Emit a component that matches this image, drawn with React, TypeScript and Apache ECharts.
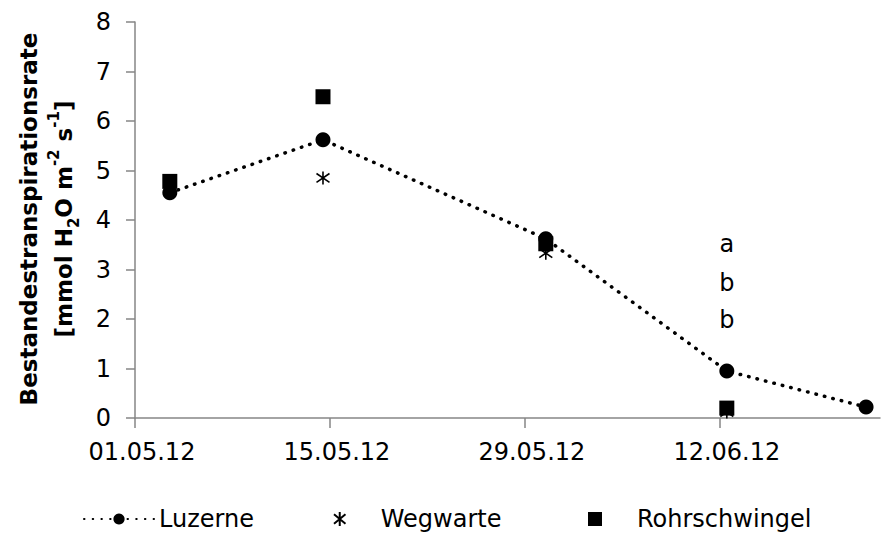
import React, { useEffect, useRef } from "react";
import * as echarts from "echarts";

// ---- data ----
const measureDates = ["03.05.12", "14.05.12", "30.05.12", "12.06.12", "22.06.12"];
const tickDates = ["01.05.12", "15.05.12", "29.05.12", "12.06.12"];
const luzerne = [4.55, 5.62, 3.62, 0.95, 0.22];
const wegwarte: (number | null)[] = [4.65, 4.85, 3.33, 0.12, null];
const rohrschwingel: (number | null)[] = [4.78, 6.49, 3.52, 0.2, null];
const letterDate = "12.06.12";
const letters = ["a", "b", "b"];
const letterLevels = [3.52, 2.73, 1.98];
const yTicks = [0, 1, 2, 3, 4, 5, 6, 7, 8];

const FONT = "DejaVu Sans";
const AXIS_GRAY = "#868686";
const ASTERISK = "path://M5,0L5,10M0.9,1.6L9.1,8.4M0.9,8.4L9.1,1.6";
const SQUARE = "path://M0,0L10,0L10,10L0,10Z";

function dayIndex(s: string): number {
  const [d, m, y] = s.split(".").map(Number);
  return (Date.UTC(2000 + y, m - 1, d) - Date.UTC(2012, 4, 1)) / 86400000;
}
// Excel date axis: each day is a slot, points sit in slot centre
const slot = (s: string) => dayIndex(s) + 0.5;

function pairs(vals: (number | null)[]) {
  return vals
    .map((v, i) => (v === null ? null : [slot(measureDates[i]), v]))
    .filter((p) => p !== null);
}

export default function App() {
  const ref = useRef<HTMLDivElement>(null);
  useEffect(() => {
    if (!ref.current) return;
    const chart = echarts.init(ref.current, null, { renderer: "svg" });
    const legendBase = {
      orient: "horizontal",
      top: 507,
      padding: 0,
      itemWidth: 70,
      itemHeight: 14,
      itemGap: 5,
      textStyle: { fontFamily: FONT, fontSize: 24, color: "#000" },
      selectedMode: false,
    };
    chart.setOption({
      animation: false,
      backgroundColor: "#fff",
      grid: { left: 135, top: 22, width: 745, height: 396, containLabel: false },
      xAxis: {
        type: "value",
        min: 0,
        max: 53.5,
        interval: 14,
        splitLine: { show: false },
        axisLine: { show: true, lineStyle: { color: AXIS_GRAY, width: 1.5 } },
        axisTick: {
          show: true,
          customValues: tickDates.map(dayIndex),
          length: 10,
          lineStyle: { color: AXIS_GRAY, width: 1.5 },
        },
        axisLabel: {
          customValues: tickDates.map(slot),
          margin: 22,
          fontFamily: FONT,
          fontSize: 24,
          color: "#000",
          formatter: (v: number) => {
            const f = tickDates.find((d) => Math.abs(slot(d) - v) < 1e-6);
            return f || "";
          },
        },
      },
      yAxis: {
        type: "value",
        min: 0,
        max: 8,
        interval: 1,
        splitLine: { show: false },
        axisLine: { show: true, lineStyle: { color: AXIS_GRAY, width: 1.5 } },
        axisTick: { show: true, length: 9, lineStyle: { color: AXIS_GRAY, width: 1.5 } },
        axisLabel: {
          margin: 24,
          fontFamily: FONT,
          fontSize: 24,
          color: "#000",
          formatter: (v: number) => (yTicks.includes(v) ? String(v) : ""),
        },
      },
      legend: [
        { ...legendBase, left: 83, data: ["Luzerne"] },
        {
          ...legendBase,
          left: 333,
          itemWidth: 14,
          textStyle: { ...legendBase.textStyle, padding: [0, 0, 0, 29] },
          data: ["Wegwarte"],
        },
        {
          ...legendBase,
          left: 588,
          itemWidth: 14,
          textStyle: { ...legendBase.textStyle, padding: [0, 0, 0, 30] },
          data: [{ name: "Rohrschwingel", icon: SQUARE }],
        },
      ],
      graphic: [
        {
          type: "text",
          x: 46,
          y: 219,
          rotation: Math.PI / 2,
          style: {
            text:
              "{b|Bestandestranspirationsrate}\n{b|[mmol H}{sub|2}{b|O m}{sup|-2}{b| s}{sup|-1}{b|]}",
            align: "center",
            verticalAlign: "middle",
            fill: "#000",
            rich: {
              b: {
                fontFamily: FONT,
                fontWeight: "bold",
                fontSize: 23,
                lineHeight: 35,
                fill: "#000",
                color: "#000",
              },
              sub: {
                fontFamily: FONT,
                fontWeight: "bold",
                fontSize: 15,
                lineHeight: 16,
                verticalAlign: "bottom",
                fill: "#000",
                color: "#000",
              },
              sup: {
                fontFamily: FONT,
                fontWeight: "bold",
                fontSize: 15,
                lineHeight: 22,
                verticalAlign: "top",
                fill: "#000",
                color: "#000",
              },
            },
          },
        },
      ],
      series: [
        {
          name: "Luzerne",
          type: "line",
          data: pairs(luzerne),
          symbol: "circle",
          symbolSize: 15,
          itemStyle: { color: "#000", opacity: 1 },
          lineStyle: { color: "#000", width: 3.5, type: [0.5, 8.2], cap: "round" },
          z: 2,
        },
        {
          name: "Wegwarte",
          type: "scatter",
          data: pairs(wegwarte),
          symbol: ASTERISK,
          symbolSize: 13,
          itemStyle: { color: "transparent", borderColor: "#000", borderWidth: 1.6, opacity: 1 },
          z: 3,
        },
        {
          name: "Rohrschwingel",
          type: "scatter",
          data: pairs(rohrschwingel),
          symbol: "rect",
          symbolSize: 15,
          itemStyle: { color: "#000", opacity: 1 },
          z: 4,
        },
        {
          name: "letters",
          type: "scatter",
          data: letters.map((l, i) => ({ name: l, value: [slot(letterDate), letterLevels[i]] })),
          symbolSize: 0,
          silent: true,
          itemStyle: { opacity: 1 },
          label: {
            show: true,
            position: "inside",
            formatter: (p: any) => p.name,
            fontFamily: FONT,
            fontSize: 24,
            color: "#000",
            opacity: 1,
          },
          z: 5,
        },
      ],
    });
    return () => chart.dispose();
  }, []);
  return <div ref={ref} style={{ width: 888, height: 537, position: "absolute", left: 0, top: 0 }} />;
}
